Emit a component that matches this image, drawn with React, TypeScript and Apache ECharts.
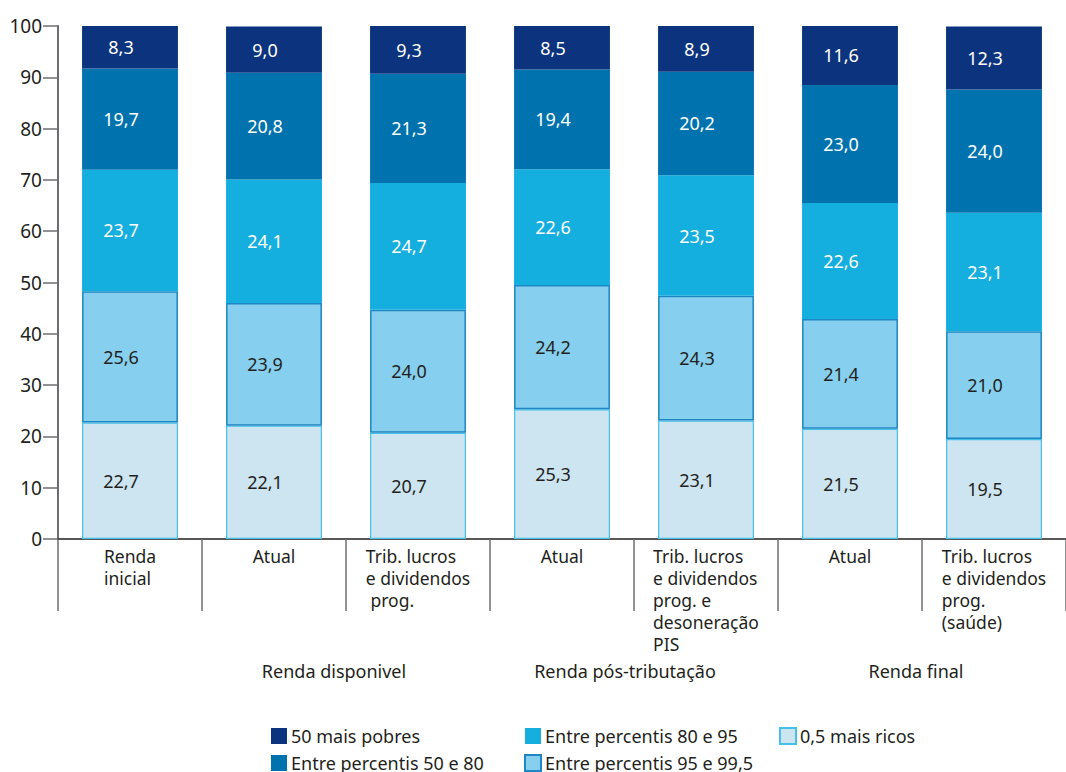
import React, { useEffect, useRef } from "react";
import * as echarts from "echarts";

const categoryLabels = [
  "Renda\ninicial",
  "Atual",
  "Trib. lucros\ne dividendos\n prog.",
  "Atual",
  "Trib. lucros\ne dividendos\nprog. e\ndesoneração\nPIS",
  "Atual",
  "Trib. lucros\ne dividendos\nprog.\n(saúde)",
];
const groupLabels = ["Renda disponivel", "Renda pós-tributação", "Renda final"];

const seriesNames = [
  "0,5 mais ricos",
  "Entre percentis 95 e 99,5",
  "Entre percentis 80 e 95",
  "Entre percentis 50 e 80",
  "50 mais pobres",
];
const ricos05 = [22.7, 22.1, 20.7, 25.3, 23.1, 21.5, 19.5];
const p95a995 = [25.6, 23.9, 24.0, 24.2, 24.3, 21.4, 21.0];
const p80a95 = [23.7, 24.1, 24.7, 22.6, 23.5, 22.6, 23.1];
const p50a80 = [19.7, 20.8, 21.3, 19.4, 20.2, 23.0, 24.0];
const pobres50 = [8.3, 9.0, 9.3, 8.5, 8.9, 11.6, 12.3];
const yTicks = [0, 10, 20, 30, 40, 50, 60, 70, 80, 90, 100];

const FONT = "Noto Sans";
const TEXT = "#231f20";

export default function App() {
  const ref = useRef<HTMLDivElement>(null);
  useEffect(() => {
    document.body.style.margin = "0";
    if (!ref.current) return;
    const chart = echarts.init(ref.current, null, { renderer: "svg" });
    const values = [ricos05, p95a995, p80a95, p50a80, pobres50];
    const colors = ["#cde5f0", "#87cfee", "#14aedf", "#0073ae", "#0c347e"];
    const borders = ["#44bfe8", "#1e86c2", "#14aedf", "#0073ae", "#0c347e"];
    const borderW = [1.2, 1.5, 0, 0, 0];
    const labelColors = [TEXT, TEXT, "#ffffff", "#ffffff", "#ffffff"];
    const fmt = (v: number) => v.toFixed(1).replace(".", ",");

    const series = values.map((vals, i) => ({
      name: seriesNames[i],
      type: "bar",
      stack: "total",
      barWidth: "66.6%",
      data: vals,
      itemStyle: { color: colors[i], borderColor: borders[i], borderWidth: borderW[i] },
      label: {
        show: true,
        position: "inside",
        offset: [-9, 0],
        color: labelColors[i],
        fontSize: 18,
        fontFamily: FONT,
        formatter: (p: any) => fmt(p.value),
      },
    }));

    const gridLeft = 58;
    const catW = 145.5;
    const groupCenters = [gridLeft + catW * 2 - 15, gridLeft + catW * 4 - 15, gridLeft + catW * 6 - 15];

    const legendBase = {
      orient: "vertical",
      top: 727,
      height: 80,
      padding: 0,
      itemWidth: 16,
      itemHeight: 16,
      itemGap: 9,
      icon: "rect",
      textStyle: { color: TEXT, fontSize: 18, lineHeight: 18, fontFamily: FONT, padding: [0, 0, 0, -1] },
    };

    chart.setOption({
      animation: false,
      textStyle: { fontFamily: FONT },
      grid: { left: gridLeft, top: 26, width: catW * 7, bottom: 233, containLabel: false },
      legend: [
        { ...legendBase, left: 271, data: ["50 mais pobres", "Entre percentis 50 e 80"] },
        { ...legendBase, left: 524, data: ["Entre percentis 80 e 95", "Entre percentis 95 e 99,5"] },
        { ...legendBase, left: 779, data: ["0,5 mais ricos"] },
      ],
      xAxis: {
        type: "category",
        data: categoryLabels.map((_, i) => String(i)),
        axisLine: { show: true, lineStyle: { color: TEXT, width: 1.5 } },
        axisTick: { show: true, length: 72, alignWithLabel: false, lineStyle: { color: "#6d6e71", width: 1.5 } },
        axisLabel: {
          margin: 6,
          interval: 0,
          color: TEXT,
          fontSize: 17.5,
          fontFamily: FONT,
          align: "center",
          verticalAlign: "top",
          formatter: (_v: string, idx: number) =>
            categoryLabels[idx]
              .split("\n")
              .map((l) => `{a|${l}}`)
              .join("\n"),
          rich: {
            a: { align: "left", fontSize: 17.5, fontFamily: FONT, color: TEXT, lineHeight: 22 },
          },
        },
      },
      yAxis: {
        type: "value",
        min: 0,
        max: 100,
        interval: 10,
        splitLine: { show: false },
        axisLine: { show: true, lineStyle: { color: "#6d6e71", width: 2 } },
        axisTick: { show: true, length: 15, lineStyle: { color: "#6d6e71", width: 1.5 } },
        axisLabel: {
          margin: 16,
          color: TEXT,
          fontSize: 19,
          fontFamily: FONT,
          formatter: (v: number) => (yTicks.includes(v) ? String(v) : ""),
        },
      },
      graphic: groupLabels.map((t, i) => ({
        type: "text",
        x: groupCenters[i],
        y: 671,
        style: {
          text: t,
          fill: TEXT,
          font: `18px ${FONT}`,
          textAlign: "center",
          textVerticalAlign: "middle",
        },
      })),
      series,
    });
    return () => chart.dispose();
  }, []);
  return <div ref={ref} style={{ width: 1066, height: 772 }} />;
}
